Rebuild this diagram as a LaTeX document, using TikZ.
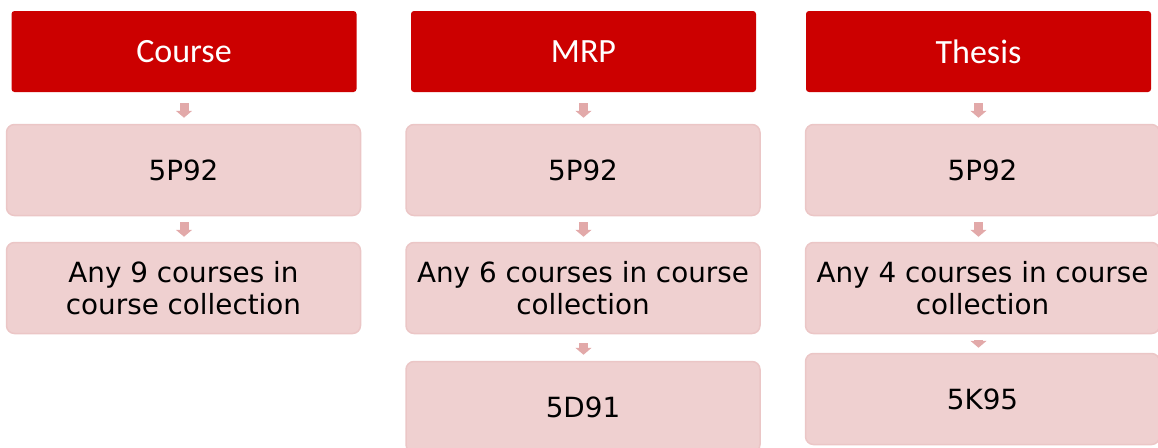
\documentclass[tikz,border=0pt]{standalone}
\usepackage{fontspec}
\setmainfont{Carlito}
\newfontfamily\bodyfont{DejaVu Sans}
\usetikzlibrary{arrows.meta}
\definecolor{hdr}{HTML}{CC0000}
\definecolor{boxfill}{HTML}{EFD0D0}
\definecolor{boxedge}{HTML}{EBC6C6}
\definecolor{arr}{HTML}{E2A9A9}
\tikzset{
  hdrbox/.style={rectangle, rounded corners=3pt, fill=hdr, text=white,
    minimum width=345pt, minimum height=81pt, inner sep=0pt,
    font=\fontsize{34}{36}\selectfont},
  itembox/.style={rectangle, rounded corners=8pt, fill=boxfill, draw=boxedge,
    line width=1.5pt, text=black, minimum width=354pt, minimum height=91pt,
    inner sep=0pt, align=center, font=\bodyfont\fontsize{27.8}{32}\selectfont},
  flowarrow/.style={draw=arr, line width=9pt,
    -{Triangle[width=16pt,length=7pt]}}
}
\begin{document}
\begin{tikzpicture}[x=1pt,y=-1pt]
\useasboundingbox (0,0) rectangle (1158,447);
\clip (0,0) rectangle (1158,447);
% column 1
\node[hdrbox] (c1h) at (184,51.5) {Course};
\node[itembox] (c1a) at (183.5,170) {5P92};
\node[itembox] (c1b) at (183.5,288) {Any 9 courses in\\course collection};
% column 2
\node[hdrbox] (c2h) at (583.5,51.5) {MRP};
\node[itembox] (c2a) at (583,170) {5P92};
\node[itembox] (c2b) at (583,288) {Any 6 courses in course\\collection};
\node[itembox] (c2c) at (583,407) {5D91};
% column 3
\node[hdrbox] (c3h) at (978.5,51.5) {Thesis};
\node[itembox] (c3a) at (982.5,170) {5P92};
\node[itembox] (c3b) at (982.5,288) {Any 4 courses in course\\collection};
\node[itembox] (c3c) at (982.5,399) {5K95};
% arrows
\draw[flowarrow, shorten <=11pt, shorten >=6pt] (c1h.south) -- (c1a.north -| c1h.south);
\draw[flowarrow, shorten <=6pt, shorten >=5pt] (c1a.south -| c1h.south) -- (c1b.north -| c1h.south);
\draw[flowarrow, shorten <=11pt, shorten >=6pt] (c2h.south) -- (c2a.north -| c2h.south);
\draw[flowarrow, shorten <=6pt, shorten >=5pt] (c2a.south -| c2h.south) -- (c2b.north -| c2h.south);
\draw[flowarrow, shorten <=9pt, shorten >=6pt] (c2b.south -| c2h.south) -- (c2c.north -| c2h.south);
\draw[flowarrow, shorten <=11pt, shorten >=6pt] (c3h.south) -- (c3a.north -| c3h.south);
\draw[flowarrow, shorten <=6pt, shorten >=5pt] (c3a.south -| c3h.south) -- (c3b.north -| c3h.south);
\draw[flowarrow, shorten <=6pt, shorten >=5pt] (c3b.south -| c3h.south) -- (c3c.north -| c3h.south);
\end{tikzpicture}
\end{document}
